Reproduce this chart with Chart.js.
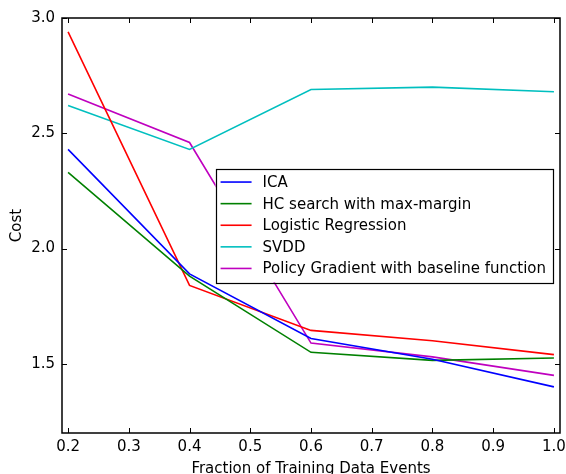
<!DOCTYPE html>
<html>
<head>
<meta charset="utf-8">
<script src="https://cdn.jsdelivr.net/npm/chart.js@4.4.1/dist/chart.umd.min.js"></script>
<style>
  html, body { margin: 0; padding: 0; background: #fff; }
</style>
</head>
<body>
<canvas id="costChart" width="566" height="474"></canvas>
<script>
// data
const fractions = [0.2, 0.4, 0.6, 0.8, 1.0];
const icaCost = [2.43, 1.89, 1.61, 1.52, 1.40];
const hcCost = [2.33, 1.88, 1.55, 1.515, 1.525];
const logisticCost = [2.94, 1.84, 1.645, 1.60, 1.54];
const svddCost = [2.62, 2.43, 2.69, 2.70, 2.68];
const policyCost = [2.67, 2.46, 1.59, 1.53, 1.45];
const seriesNames = ['ICA', 'HC search with max-margin', 'Logistic Regression', 'SVDD', 'Policy Gradient with baseline function'];
const xTicks = [0.2, 0.3, 0.4, 0.5, 0.6, 0.7, 0.8, 0.9, 1.0];
const yTicks = [1.5, 2.0, 2.5, 3.0];

const FONT = "'DejaVu Sans', sans-serif";
const colors = ['#0000ff', '#008000', '#ff0000', '#00bfbf', '#bf00bf'];

function toPoints(values) {
    return fractions.map((f, i) => ({ x: f, y: values[i] }));
}

const allSeries = [icaCost, hcCost, logisticCost, svddCost, policyCost];
const datasets = allSeries.map((vals, i) => ({
    label: seriesNames[i],
    data: toPoints(vals),
    borderColor: colors[i],
    backgroundColor: colors[i],
    borderWidth: 1.6,
    pointRadius: 0,
    tension: 0,
    fill: false
}));

// matplotlib-like frame with inward ticks on all sides + legend inside the axes
const framePlugin = {
    id: 'frame',
    afterDatasetsDraw(chart) {
        const c = chart.ctx;
        const a = chart.chartArea;
        const xs = chart.scales.x, ys = chart.scales.y;
        c.save();
        c.strokeStyle = '#000';
        c.lineWidth = 1;
        const tl = 5;
        c.beginPath();
        xTicks.forEach(v => {
            const px = Math.round(xs.getPixelForValue(v)) + 0.5;
            c.moveTo(px, a.bottom); c.lineTo(px, a.bottom - tl);
            c.moveTo(px, a.top); c.lineTo(px, a.top + tl);
        });
        yTicks.forEach(v => {
            const py = Math.round(ys.getPixelForValue(v)) + 0.5;
            c.moveTo(a.left, py); c.lineTo(a.left + tl, py);
            c.moveTo(a.right, py); c.lineTo(a.right - tl, py);
        });
        c.stroke();
        c.lineWidth = 1.5;
        c.strokeRect(a.left, a.top, a.right - a.left, a.bottom - a.top);

        // legend, center right
        c.font = '15px ' + FONT;
        const names = chart.data.datasets.map(d => d.label);
        const textW = Math.max(...names.map(n => c.measureText(n).width));
        const rowH = 21.6;
        const boxW = 5 + 31 + 11 + textW + 7;
        const boxH = 13.5 + rowH * (names.length - 1) + 14;
        const bx = a.right - 7 - boxW;
        const by = (a.top + a.bottom) / 2 - boxH / 2;
        c.fillStyle = '#fff';
        c.fillRect(bx, by, boxW, boxH);
        c.lineWidth = 1.2;
        c.strokeStyle = '#000';
        c.strokeRect(Math.round(bx) + 0.5, Math.round(by) + 0.5, Math.round(boxW), Math.round(boxH));
        c.textBaseline = 'middle';
        c.textAlign = 'left';
        chart.data.datasets.forEach((d, i) => {
            const ry = by + 13.5 + i * rowH;
            c.strokeStyle = d.borderColor;
            c.lineWidth = 1.6;
            c.beginPath();
            c.moveTo(bx + 5, ry); c.lineTo(bx + 36, ry);
            c.stroke();
            c.fillStyle = '#000';
            c.fillText(d.label, bx + 47, ry + 1);
        });
        c.restore();
    }
};

const chart = new Chart(document.getElementById('costChart').getContext('2d'), {
    type: 'line',
    data: { datasets: datasets },
    options: {
        responsive: false,
        animation: false,
        layout: { padding: { top: 18, right: 6, left: 0, bottom: 0 } },
        plugins: {
            legend: { display: false },
            tooltip: { enabled: false }
        },
        scales: {
            x: {
                type: 'linear',
                min: 0.19,
                max: 1.01,
                afterBuildTicks: s => { s.ticks = xTicks.map(v => ({ value: v })); },
                afterFit: s => { s.height = 41; s.paddingLeft = 0; s.paddingRight = 0; },
                grid: { display: false, drawTicks: false },
                border: { display: false },
                ticks: {
                    color: '#000',
                    padding: 5,
                    maxRotation: 0,
                    autoSkip: false,
                    font: { family: FONT, size: 15 },
                    callback: v => v.toFixed(1)
                },
                title: {
                    display: true,
                    text: 'Fraction of Training Data Events',
                    color: '#000',
                    font: { family: FONT, size: 15, lineHeight: 1 },
                    padding: { top: 0, bottom: -3 }
                }
            },
            y: {
                min: 1.2,
                max: 3.0,
                afterBuildTicks: s => { s.ticks = yTicks.map(v => ({ value: v })); },
                afterFit: s => { s.width = 62; s.paddingTop = 0; s.paddingBottom = 0; },
                grid: { display: false, drawTicks: false },
                border: { display: false },
                ticks: {
                    color: '#000',
                    padding: 7,
                    font: { family: FONT, size: 15 },
                    callback: v => v.toFixed(1)
                },
                title: {
                    display: true,
                    text: 'Cost',
                    color: '#000',
                    font: { family: FONT, size: 15, lineHeight: 1 },
                    padding: { top: 10, bottom: 0 }
                }
            }
        }
    },
    plugins: [framePlugin]
});
</script>
</body>
</html>
